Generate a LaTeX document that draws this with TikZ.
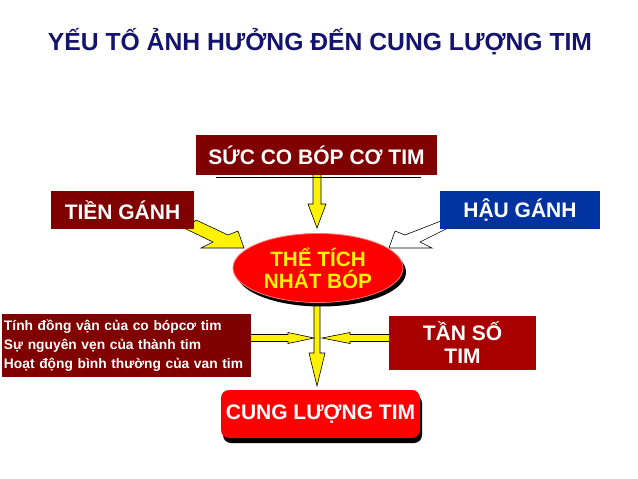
\documentclass[tikz,border=0pt]{standalone}
\usepackage{fontspec}
\setmainfont{Liberation Sans}
\usetikzlibrary{shapes.geometric,shadows,backgrounds}
\definecolor{navy}{HTML}{14146E}
\definecolor{darkred}{HTML}{800000}
\definecolor{midred}{HTML}{A80000}
\definecolor{hblue}{HTML}{0033A0}
\begin{document}
\begin{tikzpicture}[x=1pt,y=-1pt,
  box/.style={fill=darkred, text=white, font=\bfseries\fontsize{21}{23}\selectfont, inner sep=0pt, align=center},
  yarrow/.style={fill=yellow, draw=black, line width=0.6pt, line join=miter},
  warrow/.style={fill=white, draw=black, line width=0.6pt, line join=miter}]
\useasboundingbox (0,0) rectangle (638,479);

\node[font=\bfseries\fontsize{24.7}{27}\selectfont, text=navy] (title) at (320,42) {YẾU TỐ ẢNH HƯỞNG ĐẾN CUNG LƯỢNG TIM};

\node[box, minimum width=241pt, minimum height=40pt] (sc) at (316.5,155) {SỨC CO BÓP CƠ TIM};
\draw[black, line width=0.6pt] ([xshift=20pt,yshift=-2pt]sc.south west) -- ([xshift=-16pt,yshift=-2pt]sc.south east);

\node[box, minimum width=143pt, minimum height=38pt] (tg) at (122.5,210) {TIỀN GÁNH};
\node[box, fill=hblue, minimum width=160pt, minimum height=38pt] (hg) at (520,210) {HẬU GÁNH};

\node[ellipse, fill=red, draw=red!55!white, line width=0.8pt, inner sep=0pt,
      minimum width=170pt, minimum height=69pt, text=yellow,
      font=\bfseries\fontsize{20.7}{22}\selectfont, align=center,
      drop shadow={shadow xshift=3pt, shadow yshift=-4pt, opacity=1, fill=black}] (tt) at (318,268) {THỂ TÍCH\\NHÁT BÓP};

\node[box, minimum width=249pt, minimum height=63pt, text width=245pt, align=left,
      font=\bfseries\fontsize{13.8}{19}\selectfont] (lf) at (126.5,345.5) {Tính đồng vận của co bópcơ tim\\Sự nguyên vẹn của thành tim\\Hoạt động bình thường của van tim};

\node[box, fill=midred, minimum width=147pt, minimum height=54pt] (ts) at (462.5,343) {TẦN SỐ\\TIM};

\node[box, fill=red, rounded corners=8pt, minimum width=199pt, minimum height=48pt,
      drop shadow={shadow xshift=2pt, shadow yshift=-5pt, opacity=1, fill=black}] (cl) at (320.5,414) {CUNG LƯỢNG TIM};

\begin{pgfonlayer}{background}
\fill[white] (0,0) rectangle (638,479);
% top vertical arrow: SUC CO BOP -> THE TICH
\draw[yarrow] (313,170) -- (313,204) -- (308,204) -- (317,228) -- (326,204) -- (321,204) -- (321,170) -- cycle;
% left diagonal arrow: TIEN GANH -> THE TICH
\draw[yarrow] (196,220) -- (228,235) -- (238,231) -- (244,248) -- (201,248) -- (213,242) -- (186,229) -- cycle;
% right diagonal arrow: HAU GANH -> THE TICH
\draw[warrow] (441,221) -- (405,235) -- (395,231) -- (389,248) -- (432,248) -- (420,242) -- (446,229) -- cycle;
% bottom vertical arrow: THE TICH -> CUNG LUONG
\draw[yarrow] (314,295) -- (314,353) -- (309,353) -- (317,386) -- (325,353) -- (320,353) -- (320,295) -- cycle;
% horizontal arrows
\draw[yarrow] (245,334.5) -- (288,334.5) -- (288,332.5) -- (314,338) -- (288,343.5) -- (288,341.5) -- (245,341.5) -- cycle;
\draw[yarrow] (395,334.5) -- (350,334.5) -- (350,332.5) -- (322,338) -- (350,343.5) -- (350,341.5) -- (395,341.5) -- cycle;
\end{pgfonlayer}
\end{tikzpicture}
\end{document}
